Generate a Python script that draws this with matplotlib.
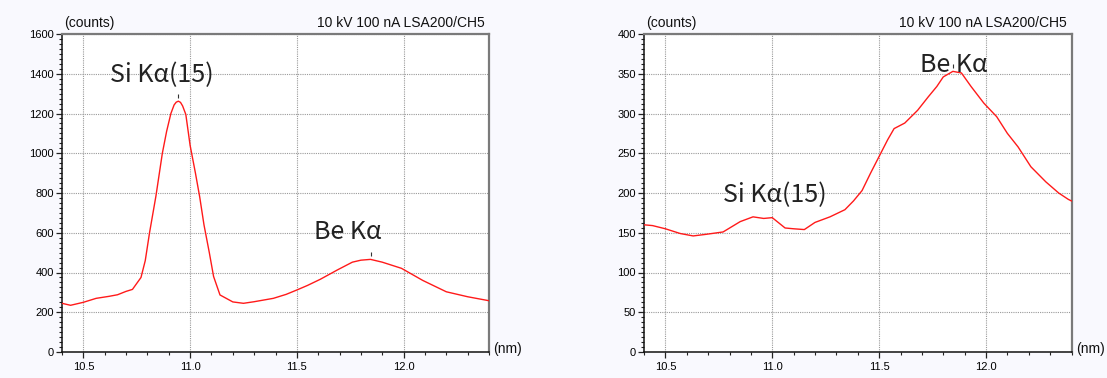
import matplotlib
matplotlib.use("Agg")
import matplotlib.pyplot as plt
import numpy as np
from matplotlib.ticker import MultipleLocator, AutoMinorLocator, FormatStrFormatter
from matplotlib.transforms import offset_copy

# ---------------- data ----------------
left_nm = [10.40, 10.44, 10.50, 10.56, 10.62, 10.66, 10.70, 10.73, 10.77, 10.79,
           10.81, 10.84, 10.87, 10.89, 10.91, 10.925, 10.935, 10.945, 10.955, 10.965,
           10.98, 11.00, 11.025, 11.045, 11.065, 11.09, 11.11, 11.14, 11.20, 11.25,
           11.30, 11.39, 11.45, 11.50, 11.55, 11.61, 11.69, 11.76, 11.80, 11.845,
           11.90, 11.99, 12.09, 12.20, 12.30, 12.40]
left_counts = [245, 235, 250, 270, 280, 288, 305, 315, 375, 460,
               600, 785, 1000, 1110, 1200, 1243, 1257, 1262, 1256, 1238,
               1195, 1040, 900, 780, 640, 500, 380, 287, 252, 245,
               253, 270, 290, 312, 335, 366, 413, 452, 462, 466,
               452, 421, 360, 303, 278, 258]

right_nm = [10.40, 10.44, 10.50, 10.57, 10.63, 10.69, 10.77, 10.85, 10.91, 10.96,
            11.00, 11.06, 11.10, 11.15, 11.20, 11.27, 11.34, 11.38, 11.42, 11.46,
            11.50, 11.54, 11.57, 11.62, 11.68, 11.73, 11.77, 11.80, 11.845, 11.885,
            11.93, 11.99, 12.05, 12.10, 12.15, 12.21, 12.28, 12.34, 12.385, 12.40]
right_counts = [160, 159, 155, 149, 146, 148, 151, 164, 170, 168,
                169, 156, 155, 154, 163, 170, 179, 190, 203, 225,
                246, 267, 281, 288, 304, 321, 334, 346, 353, 351,
                334, 313, 296, 275, 258, 233, 214, 200, 192, 190]

header_text = "10 kV 100 nA LSA200/CH5"
y_unit = "(counts)"
x_unit = "(nm)"
si_label = "Si K\u03b1(15)"
be_label = "Be K\u03b1"

left_labels = [(si_label, 10.867, 1394), (be_label, 11.74, 604)]
right_labels = [(si_label, 11.01, 197), (be_label, 11.85, 361)]
left_peak_windows = [(10.6, 11.2), (11.5, 12.2)]
right_peak_windows = [(11.5, 12.2)]

# ---------------- style ----------------
tick_font = ["Liberation Sans", "DejaVu Sans"]
label_font = ["Noto Sans CJK JP", "DejaVu Sans"]

fig = plt.figure(figsize=(11.07, 3.78), dpi=100, facecolor="#f9f9fe")


def make_axes(rect, x, y, ymax, ymajor, labels, windows):
    ax = fig.add_axes(rect)
    ax.set_facecolor("white")
    ax.plot(x, y, color="#ff1a1a", lw=1.0, zorder=3)
    ax.set_xlim(10.4, 12.4)
    ax.set_ylim(0, ymax)
    ax.xaxis.set_major_locator(MultipleLocator(0.5))
    ax.xaxis.set_minor_locator(MultipleLocator(0.1))
    ax.yaxis.set_major_locator(MultipleLocator(ymajor))
    ax.yaxis.set_minor_locator(AutoMinorLocator(8))
    ax.xaxis.set_major_formatter(FormatStrFormatter("%.1f"))
    ax.grid(True, which="major", color="#9a9a9a", lw=0.8, linestyle=(0, (1, 1)))
    ax.tick_params(which="major", direction="out", length=4, width=0.9,
                   color="#222222", labelsize=8, pad=2)
    ax.tick_params(which="minor", direction="out", length=2.5, width=0.8,
                   color="#222222")
    ax.tick_params(axis="x", which="major", pad=3)
    for lab in ax.get_xticklabels() + ax.get_yticklabels():
        lab.set_family(tick_font)
    for side in ("left", "bottom"):
        ax.spines[side].set_color("#111111")
        ax.spines[side].set_linewidth(1.1)
    for side in ("top", "right"):
        ax.spines[side].set_color("#7a7a7a")
        ax.spines[side].set_linewidth(1.6)
    ax.text(0.005, 1.012, y_unit, transform=ax.transAxes, ha="left", va="bottom",
            fontsize=10, family=tick_font, color="#111111")
    ax.text(0.99, 1.012, header_text, transform=ax.transAxes, ha="right",
            va="bottom", fontsize=10, family=tick_font, color="#111111")
    ax.text(1.01, 0.008, x_unit, transform=ax.transAxes, ha="left", va="center",
            fontsize=10, family=tick_font, color="#111111")
    for txt, lx, ly in labels:
        ax.text(lx, ly, txt, ha="center", va="center", fontsize=18,
                family=label_font, color="#222222", zorder=4)
    xa = np.asarray(x)
    ya = np.asarray(y)
    tr = offset_copy(ax.transData, fig=fig, x=0, y=4, units="points")
    for lo, hi in windows:
        m = (xa >= lo) & (xa <= hi)
        i = np.argmax(np.where(m, ya, -np.inf))
        ax.plot([xa[i]], [ya[i]], marker="|", markersize=3.5, mew=0.8,
                color="#333333", transform=tr, zorder=4, clip_on=False)
    return ax


make_axes([62 / 1107, 26 / 378, 427 / 1107, 318 / 378], left_nm, left_counts,
          1600, 200, left_labels, left_peak_windows)
make_axes([644 / 1107, 26 / 378, 427.5 / 1107, 318 / 378], right_nm, right_counts,
          400, 50, right_labels, right_peak_windows)

fig.savefig("out.png", dpi=100, facecolor=fig.get_facecolor())
